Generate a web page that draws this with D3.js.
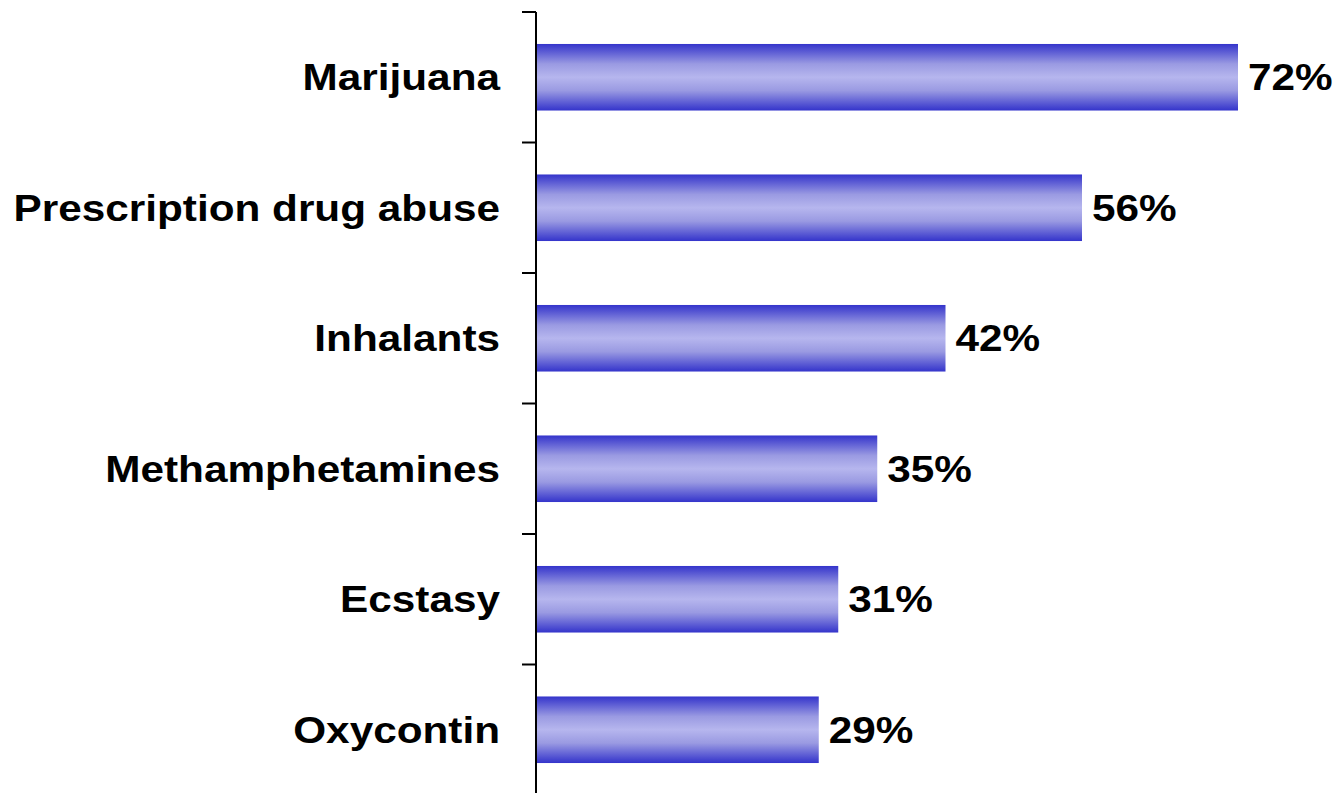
<!DOCTYPE html>
<html>
<head>
<meta charset="utf-8">
<script src="https://cdn.jsdelivr.net/npm/d3@7"></script>
<style>
body { margin: 0; background: #fff; }
text { font-family: "Liberation Sans", Arial, sans-serif; font-weight: bold; }
</style>
</head>
<body>
<div class="grp"></div>
<script>
var categories = ["Marijuana", "Prescription drug abuse", "Inhalants", "Methamphetamines", "Ecstasy", "Oxycontin"];
var values = [72, 56, 42, 35, 31, 29];
var valueLabels = ["72%", "56%", "42%", "35%", "31%", "29%"];

var width = 1340, height = 793;
var stretch = 1.175; // text in the picture is wider than plain Arial

var svg = d3.select(".grp").append("svg")
    .attr("width", width)
    .attr("height", height);

// 9.75px per percent, 0 sits on the axis
var x = d3.scaleLinear().domain([0, 100]).range([536, 1511]);
var y = d3.scaleBand().domain(categories).range([12, 795]).paddingInner(0.49).paddingOuter(0.245);

var grad = svg.append("defs").append("linearGradient")
    .attr("id", "barGrad")
    .attr("x1", 0).attr("y1", 0).attr("x2", 0).attr("y2", 1);
grad.append("stop").attr("offset", "0%").attr("stop-color", "#3434cb");
grad.append("stop").attr("offset", "30%").attr("stop-color", "#9a9ae2");
grad.append("stop").attr("offset", "50%").attr("stop-color", "#b6b6ee");
grad.append("stop").attr("offset", "70%").attr("stop-color", "#9a9ae2");
grad.append("stop").attr("offset", "100%").attr("stop-color", "#3434cb");

svg.selectAll(".bar")
    .data(values)
    .enter().append("rect")
    .attr("class", "bar")
    .attr("x", x(0))
    .attr("y", function (d, i) { return y(categories[i]); })
    .attr("width", function (d) { return x(d) - x(0); })
    .attr("height", y.bandwidth())
    .attr("fill", "url(#barGrad)");

// axis line + ticks at band boundaries
var step = y.step();
var ticks = [];
for (var i = 0; i <= categories.length; i++) ticks.push(12 + i * step);
svg.append("line")
    .attr("x1", x(0)).attr("x2", x(0))
    .attr("y1", 12).attr("y2", height)
    .attr("stroke", "#000").attr("stroke-width", 2);
svg.selectAll(".tick")
    .data(ticks)
    .enter().append("line")
    .attr("x1", x(0) - 14).attr("x2", x(0))
    .attr("y1", function (d) { return d; })
    .attr("y2", function (d) { return d; })
    .attr("stroke", "#000").attr("stroke-width", 2);

svg.selectAll(".cat")
    .data(categories)
    .enter().append("text")
    .attr("transform", function (d) {
        return "translate(500," + (y(d) + y.bandwidth() / 2) + ") scale(" + stretch + ",1)";
    })
    .attr("dy", "0.36em")
    .attr("text-anchor", "end")
    .attr("font-size", 36)
    .text(function (d) { return d; });

svg.selectAll(".val")
    .data(values)
    .enter().append("text")
    .attr("transform", function (d, i) {
        return "translate(" + (x(d) + 10) + "," + (y(categories[i]) + y.bandwidth() / 2) + ") scale(" + stretch + ",1)";
    })
    .attr("dy", "0.36em")
    .attr("font-size", 36)
    .text(function (d, i) { return valueLabels[i]; });
</script>
</body>
</html>
